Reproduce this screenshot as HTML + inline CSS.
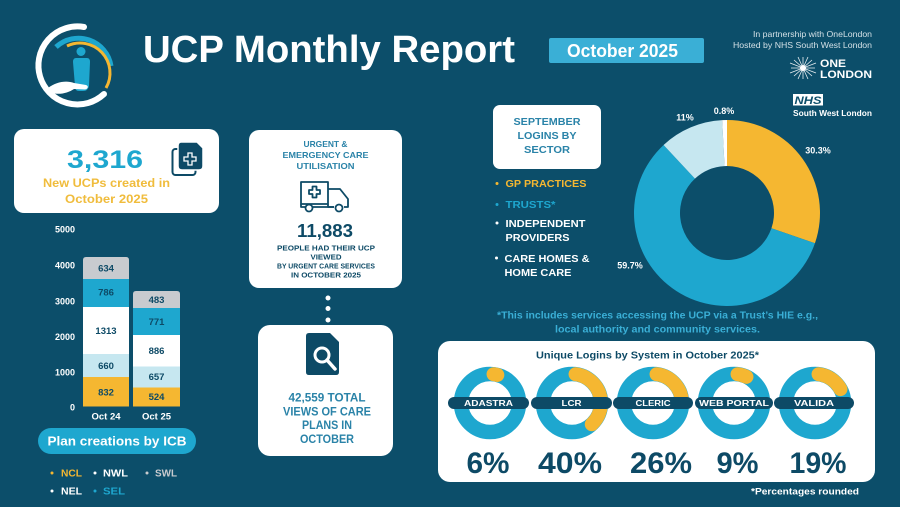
<!DOCTYPE html>
<html><head><meta charset="utf-8"><style>
html,body{margin:0;padding:0;background:#0c4e6a;}
svg{display:block;}
text{font-family:"Liberation Sans",Arial,sans-serif;font-weight:bold;}
</style></head><body>
<svg width="900" height="507" viewBox="0 0 900 507" xmlns="http://www.w3.org/2000/svg">
<rect width="900" height="507" fill="#0c4e6a"/>

<!-- Logo -->
<g>
  <path d="M84 27 A39 39 0 1 0 104 94" fill="none" stroke="#ffffff" stroke-width="6" stroke-linecap="round"/>
  <path d="M56 47 A33 33 0 0 1 111 66" fill="none" stroke="#1ea7cf" stroke-width="5"/>
  <path d="M67 46 A30 30 0 0 1 106 88" fill="none" stroke="#f5b731" stroke-width="3"/>
  <circle cx="81" cy="51.5" r="4.5" fill="#1ea7cf"/>
  <path d="M76 58 L87 58 Q90 58 90 62 L89 86 Q88 91 83 91 L79 91 Q75 91 75 86 L73 62 Q73 58 76 58 Z" fill="#1ea7cf"/>
  <path d="M48 88 C56 82 66 80 74 83 L86 85 C89 86 88 89 85 89.5 L74 89 C68 93 60 95 52 93 Z" fill="#ffffff"/>
</g>

<!-- Title -->
<text x="143" y="62" font-size="38" fill="#ffffff" textLength="372" lengthAdjust="spacingAndGlyphs">UCP Monthly Report</text>
<rect x="549" y="38" width="155" height="25" rx="2" fill="#3aafd6"/>
<text x="622.5" y="57" font-size="18" fill="#ffffff" text-anchor="middle" textLength="111" lengthAdjust="spacingAndGlyphs">October 2025</text>

<!-- Top right -->
<text x="872" y="37" font-size="8.5" fill="#d3e0e6" text-anchor="end" style="font-weight:normal" textLength="119" lengthAdjust="spacingAndGlyphs">In partnership with OneLondon</text>
<text x="872" y="48" font-size="8.5" fill="#d3e0e6" text-anchor="end" style="font-weight:normal" textLength="139" lengthAdjust="spacingAndGlyphs">Hosted by NHS South West London</text>
<g stroke="#ffffff" stroke-width="0.8" opacity="0.9">
  <line x1="791" y1="68" x2="815" y2="68"/><line x1="803" y1="57" x2="803" y2="79"/>
  <line x1="794" y1="60" x2="812" y2="76"/><line x1="794" y1="76" x2="812" y2="60"/>
  <line x1="790" y1="63" x2="816" y2="73"/><line x1="790" y1="73" x2="816" y2="63"/>
  <line x1="798" y1="57" x2="808" y2="79"/><line x1="808" y1="57" x2="798" y2="79"/>
</g>
<circle cx="803" cy="68" r="3" fill="#ffffff"/>
<text x="820" y="67" font-size="11" fill="#ffffff" textLength="26" lengthAdjust="spacingAndGlyphs">ONE</text>
<text x="820" y="78" font-size="11" fill="#ffffff" textLength="52" lengthAdjust="spacingAndGlyphs">LONDON</text>
<rect x="793" y="94" width="30" height="11.5" fill="#ffffff"/>
<text x="808" y="104" font-size="11" fill="#0c4e6a" text-anchor="middle" font-style="italic" textLength="27" lengthAdjust="spacingAndGlyphs">NHS</text>
<text x="793" y="116" font-size="8.5" fill="#ffffff" textLength="79" lengthAdjust="spacingAndGlyphs">South West London</text>

<!-- Box 1 -->
<rect x="14" y="129" width="205" height="84" rx="10" fill="#ffffff"/>
<text x="105" y="168" font-size="25" fill="#1ea7cf" text-anchor="middle" textLength="76" lengthAdjust="spacingAndGlyphs">3,316</text>
<text x="106.5" y="187" font-size="11.5" fill="#f0bc3c" text-anchor="middle" textLength="127" lengthAdjust="spacingAndGlyphs">New UCPs created in</text>
<text x="106.5" y="203" font-size="11.5" fill="#f0bc3c" text-anchor="middle" textLength="83" lengthAdjust="spacingAndGlyphs">October 2025</text>
<rect x="172.5" y="149" width="23" height="26" rx="3" fill="none" stroke="#0d4a66" stroke-width="2"/>
<path d="M181 142 L197 142 L203 148 L203 166 Q203 170 199 170 L182 170 Q178 170 178 166 L178 146 Q178 142 181 142 Z" fill="#0d4a66" stroke="#ffffff" stroke-width="1.5"/>
<path d="M188 153 h4 v4 h4 v4 h-4 v4 h-4 v-4 h-4 v-4 h4 z" fill="none" stroke="#ffffff" stroke-width="1.3"/>

<!-- Box 2 -->
<rect x="249" y="130" width="153" height="158" rx="10" fill="#ffffff"/>
<text x="325.5" y="147" font-size="8.5" fill="#2a83a8" text-anchor="middle" textLength="44" lengthAdjust="spacingAndGlyphs">URGENT &amp;</text>
<text x="325.5" y="158" font-size="8.5" fill="#2a83a8" text-anchor="middle" textLength="86" lengthAdjust="spacingAndGlyphs">EMERGENCY CARE</text>
<text x="325.5" y="169" font-size="8.5" fill="#2a83a8" text-anchor="middle" textLength="58" lengthAdjust="spacingAndGlyphs">UTILISATION</text>
<g fill="none" stroke="#0d4a66" stroke-width="1.8" stroke-linejoin="round">
  <rect x="301" y="182" width="27" height="22"/>
  <path d="M328 189 L340 189 L348 199 L348 207 L344 207 M334 207 L328 207 L328 204"/>
  <path d="M301 204 L301 207 L305 207 M313 207 L334 207"/>
  <circle cx="309" cy="208" r="3.5" fill="#ffffff"/>
  <circle cx="339" cy="208" r="3.5" fill="#ffffff"/>
  <path d="M312.5 186.5 h4 v3.5 h3.5 v4 h-3.5 v3.5 h-4 v-3.5 h-3.5 v-4 h3.5 z"/>
</g>
<text x="325" y="237" font-size="18" fill="#0d4a66" text-anchor="middle" textLength="56" lengthAdjust="spacingAndGlyphs">11,883</text>
<text x="326" y="250.5" font-size="7.2" fill="#0d4a66" text-anchor="middle" textLength="98" lengthAdjust="spacingAndGlyphs">PEOPLE HAD THEIR UCP</text>
<text x="326" y="259.5" font-size="7.2" fill="#0d4a66" text-anchor="middle" textLength="31" lengthAdjust="spacingAndGlyphs">VIEWED</text>
<text x="326" y="268.5" font-size="7.2" fill="#0d4a66" text-anchor="middle" textLength="98" lengthAdjust="spacingAndGlyphs">BY URGENT CARE SERVICES</text>
<text x="326" y="277.5" font-size="7.2" fill="#0d4a66" text-anchor="middle" textLength="70" lengthAdjust="spacingAndGlyphs">IN OCTOBER 2025</text>

<circle cx="328" cy="298" r="2.5" fill="#ffffff"/>
<circle cx="328" cy="308.5" r="2.5" fill="#ffffff"/>
<circle cx="328" cy="320" r="2.5" fill="#ffffff"/>

<!-- Box 3 -->
<rect x="258" y="325" width="135" height="131" rx="12" fill="#ffffff"/>
<path d="M309 333 L330 333 L339 342 L339 372 Q339 375 336 375 L309 375 Q306 375 306 372 L306 336 Q306 333 309 333 Z" fill="#0d4a66"/>
<circle cx="322" cy="355" r="7" fill="none" stroke="#ffffff" stroke-width="3"/>
<line x1="327" y1="360" x2="335" y2="369" stroke="#ffffff" stroke-width="3.5" stroke-linecap="round"/>
<text x="327" y="401.5" font-size="11.5" fill="#2a83a8" text-anchor="middle" textLength="77" lengthAdjust="spacingAndGlyphs">42,559 TOTAL</text>
<text x="327" y="415.5" font-size="11.5" fill="#2a83a8" text-anchor="middle" textLength="88" lengthAdjust="spacingAndGlyphs">VIEWS OF CARE</text>
<text x="327" y="429" font-size="11.5" fill="#2a83a8" text-anchor="middle" textLength="50" lengthAdjust="spacingAndGlyphs">PLANS IN</text>
<text x="327" y="443" font-size="11.5" fill="#2a83a8" text-anchor="middle" textLength="54" lengthAdjust="spacingAndGlyphs">OCTOBER</text>

<!-- Bar chart -->
<g font-size="9" fill="#ffffff" text-anchor="end">
  <text x="75" y="232.5">5000</text>
  <text x="75" y="268.5">4000</text>
  <text x="75" y="304.5">3000</text>
  <text x="75" y="340">2000</text>
  <text x="75" y="375.5">1000</text>
  <text x="75" y="410.5">0</text>
</g>
<!-- Oct 24 -->
<path d="M83 279 L83 260 Q83 257 86 257 L126 257 Q129 257 129 260 L129 279 Z" fill="#c8cbcf"/>
<rect x="83" y="279" width="46" height="28" fill="#1ea7cf"/>
<rect x="83" y="307" width="46" height="47" fill="#ffffff"/>
<rect x="83" y="354" width="46" height="23" fill="#c6e7f0"/>
<rect x="83" y="377" width="46" height="29.5" fill="#f5b731"/>
<!-- Oct 25 -->
<path d="M133 308 L133 294 Q133 291 136 291 L177 291 Q180 291 180 294 L180 308 Z" fill="#c8cbcf"/>
<rect x="133" y="308" width="47" height="27" fill="#1ea7cf"/>
<rect x="133" y="335" width="47" height="31.5" fill="#ffffff"/>
<rect x="133" y="366.5" width="47" height="21" fill="#c6e7f0"/>
<rect x="133" y="387.5" width="47" height="19" fill="#f5b731"/>
<g font-size="9.5" fill="#0d4a66" text-anchor="middle">
  <text x="106" y="271.5">634</text>
  <text x="106" y="295.5">786</text>
  <text x="106" y="334">1313</text>
  <text x="106" y="369">660</text>
  <text x="106" y="395.5">832</text>
  <text x="156.5" y="303">483</text>
  <text x="156.5" y="325">771</text>
  <text x="156.5" y="354">886</text>
  <text x="156.5" y="380">657</text>
  <text x="156.5" y="400">524</text>
</g>
<text x="106" y="419.5" font-size="9.5" fill="#ffffff" text-anchor="middle">Oct 24</text>
<text x="156.5" y="419.5" font-size="9.5" fill="#ffffff" text-anchor="middle">Oct 25</text>

<rect x="38" y="428" width="158" height="26" rx="13" fill="#1ea7cf"/>
<text x="117" y="445.5" font-size="13" fill="#ffffff" text-anchor="middle" textLength="139" lengthAdjust="spacingAndGlyphs">Plan creations by ICB</text>
<g font-size="10">
  <circle cx="52" cy="473" r="1.5" fill="#f5b731"/><text x="61" y="476.5" fill="#f5b731" textLength="21" lengthAdjust="spacingAndGlyphs">NCL</text>
  <circle cx="95" cy="473" r="1.5" fill="#ffffff"/><text x="103" y="476.5" fill="#ffffff" textLength="25" lengthAdjust="spacingAndGlyphs">NWL</text>
  <circle cx="147" cy="473" r="1.5" fill="#c8cbcf"/><text x="155" y="476.5" fill="#c8cbcf" textLength="22" lengthAdjust="spacingAndGlyphs">SWL</text>
  <circle cx="52" cy="491" r="1.5" fill="#ffffff"/><text x="61" y="494.5" fill="#ffffff" textLength="21" lengthAdjust="spacingAndGlyphs">NEL</text>
  <circle cx="95" cy="491" r="1.5" fill="#1ea7cf"/><text x="103" y="494.5" fill="#1ea7cf" textLength="22" lengthAdjust="spacingAndGlyphs">SEL</text>
</g>

<!-- September box -->
<rect x="493" y="105" width="108" height="64" rx="7" fill="#ffffff"/>
<text x="547" y="125" font-size="10.5" fill="#2a83a8" text-anchor="middle" textLength="67" lengthAdjust="spacingAndGlyphs">SEPTEMBER</text>
<text x="547" y="139" font-size="10.5" fill="#2a83a8" text-anchor="middle" textLength="59" lengthAdjust="spacingAndGlyphs">LOGINS BY</text>
<text x="547" y="153" font-size="10.5" fill="#2a83a8" text-anchor="middle" textLength="46" lengthAdjust="spacingAndGlyphs">SECTOR</text>

<g font-size="10.5">
  <circle cx="497" cy="183.5" r="1.5" fill="#f5b731"/><text x="505.5" y="187" fill="#f5b731" textLength="81" lengthAdjust="spacingAndGlyphs">GP PRACTICES</text>
  <circle cx="497" cy="204.5" r="1.5" fill="#1ea7cf"/><text x="505.5" y="208" fill="#1ea7cf" textLength="50" lengthAdjust="spacingAndGlyphs">TRUSTS*</text>
  <circle cx="497" cy="223" r="1.5" fill="#ffffff"/><text x="505.5" y="227" fill="#ffffff" textLength="80" lengthAdjust="spacingAndGlyphs">INDEPENDENT</text>
  <text x="505.5" y="241" fill="#ffffff" textLength="64" lengthAdjust="spacingAndGlyphs">PROVIDERS</text>
  <circle cx="496.5" cy="258" r="1.5" fill="#ffffff"/><text x="504.5" y="262" fill="#ffffff" textLength="85" lengthAdjust="spacingAndGlyphs">CARE HOMES &amp;</text>
  <text x="504.5" y="276" fill="#ffffff" textLength="67" lengthAdjust="spacingAndGlyphs">HOME CARE</text>
</g>

<!-- Donut -->
<path d="M727 120 A93 93 0 0 1 814.93 243.28 L771.44 228.30 A47 47 0 0 0 727 166 Z" fill="#f5b731"/>
<path d="M814.93 243.28 A93 93 0 1 1 663.57 144.98 L694.95 178.62 A47 47 0 1 0 771.44 228.30 Z" fill="#1ea7cf"/>
<path d="M663.57 144.98 A93 93 0 0 1 722.13 120.13 L724.54 166.07 A47 47 0 0 0 694.95 178.62 Z" fill="#c6e7f0"/>
<path d="M722.13 120.13 A93 93 0 0 1 727 120 L727 166 A47 47 0 0 0 724.54 166.07 Z" fill="#ffffff"/>
<g font-size="9" fill="#ffffff" text-anchor="middle">
  <text x="724" y="114">0.8%</text>
  <text x="685" y="120.5">11%</text>
  <text x="818" y="153.5">30.3%</text>
  <text x="630" y="268.5">59.7%</text>
</g>

<text x="657.5" y="318.5" font-size="9.8" fill="#3aafd6" text-anchor="middle" textLength="321" lengthAdjust="spacingAndGlyphs">*This includes services accessing the UCP via a Trust’s HIE e.g.,</text>
<text x="657.5" y="332.5" font-size="9.8" fill="#3aafd6" text-anchor="middle" textLength="205" lengthAdjust="spacingAndGlyphs">local authority and community services.</text>

<!-- Bottom box -->
<rect x="438" y="341" width="437" height="141" rx="12" fill="#ffffff"/>
<text x="647.5" y="358.5" font-size="10.5" fill="#0d4a66" text-anchor="middle" textLength="223" lengthAdjust="spacingAndGlyphs">Unique Logins by System in October 2025*</text>

<g fill="none" stroke-width="14.5">
  <circle cx="490" cy="403" r="29" stroke="#1ea7cf"/>
  <circle cx="572" cy="403" r="29" stroke="#1ea7cf"/>
  <circle cx="653" cy="403" r="29" stroke="#1ea7cf"/>
  <circle cx="734" cy="403" r="29" stroke="#1ea7cf"/>
  <circle cx="815" cy="403" r="29" stroke="#1ea7cf"/>
</g>
<g fill="none" stroke="#f5b731" stroke-width="14" stroke-linecap="round">
  <path d="M493.53 374.22 A29 29 0 0 1 497.31 374.94"/>
  <path d="M575.53 374.22 A29 29 0 0 1 591.78 424.21"/>
  <path d="M656.53 374.22 A29 29 0 0 1 681.95 401.28"/>
  <path d="M737.53 374.22 A29 29 0 0 1 746.44 376.80"/>
  <path d="M818.53 374.22 A29 29 0 0 1 840.46 389.12"/>
</g>
<g fill="#0d4a66">
  <rect x="448" y="397" width="81" height="12" rx="6"/>
  <rect x="531" y="397" width="81" height="12" rx="6"/>
  <rect x="613" y="397" width="80" height="12" rx="6"/>
  <rect x="695" y="397" width="78" height="12" rx="6"/>
  <rect x="774" y="397" width="80" height="12" rx="6"/>
</g>
<g font-size="8" fill="#ffffff" text-anchor="middle">
  <text x="488.5" y="406" textLength="49" lengthAdjust="spacingAndGlyphs">ADASTRA</text>
  <text x="571.5" y="406" textLength="20" lengthAdjust="spacingAndGlyphs">LCR</text>
  <text x="653" y="406" textLength="35" lengthAdjust="spacingAndGlyphs">CLERIC</text>
  <text x="734" y="406" textLength="70" lengthAdjust="spacingAndGlyphs">WEB PORTAL</text>
  <text x="814" y="406" textLength="40" lengthAdjust="spacingAndGlyphs">VALIDA</text>
</g>
<g font-size="30" fill="#0d4a66" text-anchor="middle">
  <text x="488" y="473" textLength="43" lengthAdjust="spacingAndGlyphs">6%</text>
  <text x="570" y="473" textLength="64" lengthAdjust="spacingAndGlyphs">40%</text>
  <text x="661" y="473" textLength="62" lengthAdjust="spacingAndGlyphs">26%</text>
  <text x="737.5" y="473" textLength="42" lengthAdjust="spacingAndGlyphs">9%</text>
  <text x="818" y="473" textLength="57" lengthAdjust="spacingAndGlyphs">19%</text>
</g>
<text x="859" y="494.5" font-size="9.5" fill="#ffffff" text-anchor="end" textLength="108" lengthAdjust="spacingAndGlyphs">*Percentages rounded</text>
</svg>
</body></html>
